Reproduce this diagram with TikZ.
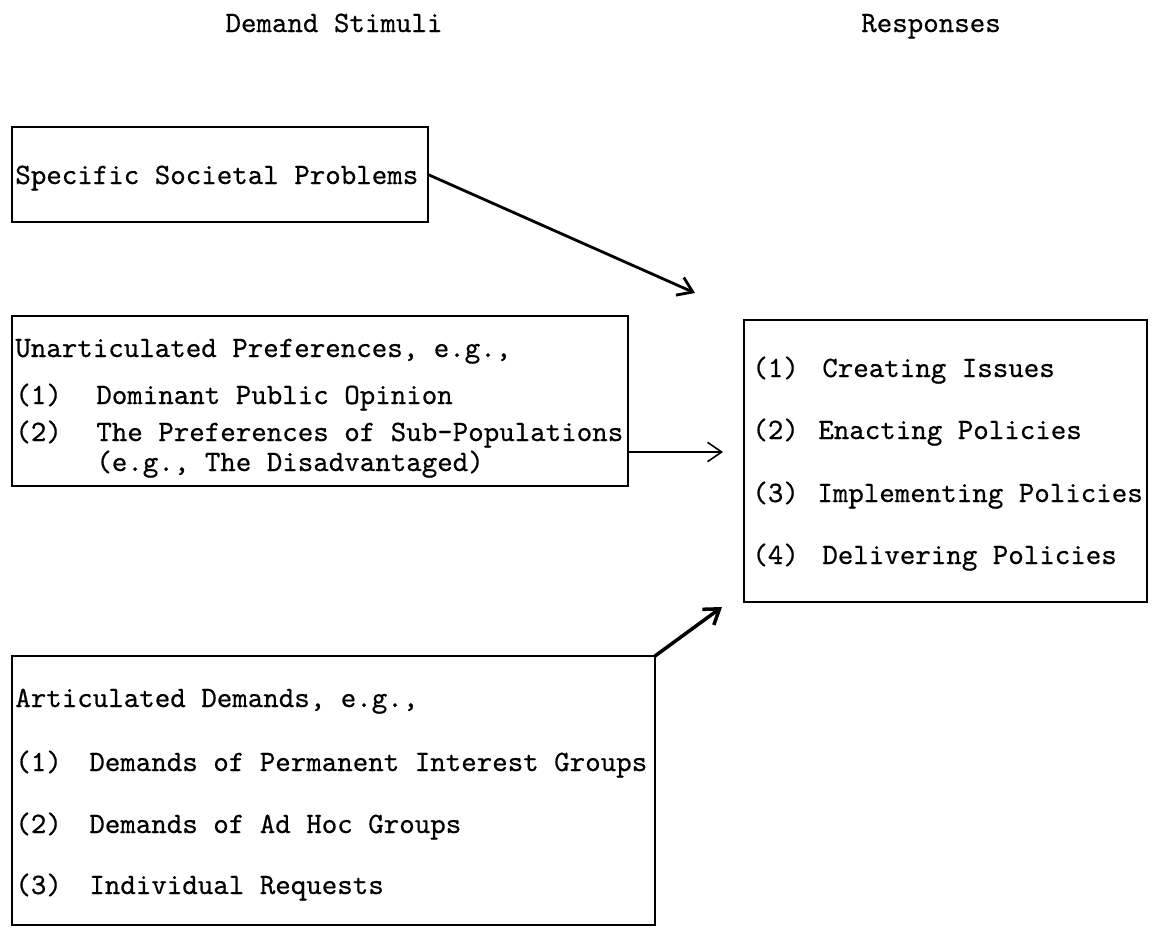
\documentclass[tikz,border=0pt]{standalone}
\usepackage{fontspec}
\newfontfamily\typefont[FakeBold=0.5]{lmmono10-regular.otf}
\usetikzlibrary{arrows.meta}
\begin{document}
\begin{tikzpicture}[x=0.02cm,y=-0.02cm,font=\typefont\fontsize{16.8}{20}\selectfont,
  box/.style={draw,line width=1pt,inner sep=0,outer sep=0},
  txt/.style={anchor=base west,inner sep=0},
  arr/.style={-{Straight Barb[length=8pt,width=11pt]},line width=1.6pt}]
\useasboundingbox (0,0) rectangle (1157,930);
\node[anchor=base] (hstim) at (334,32) {Demand Stimuli};
\node[anchor=base] (hresp) at (931,32) {Responses};
\node[box,minimum width=8.32cm,minimum height=1.9cm] (probs) at (220,174.5) {};
\node[box,minimum width=12.32cm,minimum height=3.4cm] (prefs) at (320,401) {};
\node[box,minimum width=12.86cm,minimum height=5.38cm] (demands) at (333.5,790.5) {};
\node[box,minimum width=8.06cm,minimum height=5.64cm] (resp) at (945.5,461) {};
\node[txt] (probsa) at (15,184) {Specific Societal Problems};
\node[txt] (prefsa) at (15,357) {Unarticulated Preferences, e.g.,};
\node[txt] (prefsb) at (15,404) {(1)};
\node[txt] (prefsc) at (96,404) {Dominant Public Opinion};
\node[txt] (prefsd) at (15,441) {(2)};
\node[txt] (prefse) at (96,441) {The Preferences of Sub-Populations};
\node[txt] (prefsf) at (96,471) {(e.g., The Disadvantaged)};
\node[txt] (demandsa) at (15,707) {Articulated Demands, e.g.,};
\node[txt] (demandsb) at (15,771) {(1)};
\node[txt] (demandsc) at (89,771) {Demands of Permanent Interest Groups};
\node[txt] (demandsd) at (15,833) {(2)};
\node[txt] (demandse) at (89,833) {Demands of Ad Hoc Groups};
\node[txt] (demandsf) at (15,894) {(3)};
\node[txt] (demandsg) at (89,894) {Individual Requests};
\node[txt] (respa) at (752,377) {(1)};
\node[txt] (respb) at (822,377) {Creating Issues};
\node[txt] (respc) at (752,439) {(2)};
\node[txt] (respd) at (818,439) {Enacting Policies};
\node[txt] (respe) at (752,502) {(3)};
\node[txt] (respf) at (817,502) {Implementing Policies};
\node[txt] (respg) at (752,564) {(4)};
\node[txt] (resph) at (822,564) {Delivering Policies};
\coordinate (tipa) at (695,293);
\coordinate (tipb) at (723,452);
\coordinate (tipc) at (722,607);
\draw[arr] (probs.east) -- (tipa);
\draw[arr,line width=0.9pt] (prefs.east |- tipb) -- (tipb);
\draw[arr,line width=2pt] (demands.north east) -- (tipc);
\end{tikzpicture}
\end{document}
